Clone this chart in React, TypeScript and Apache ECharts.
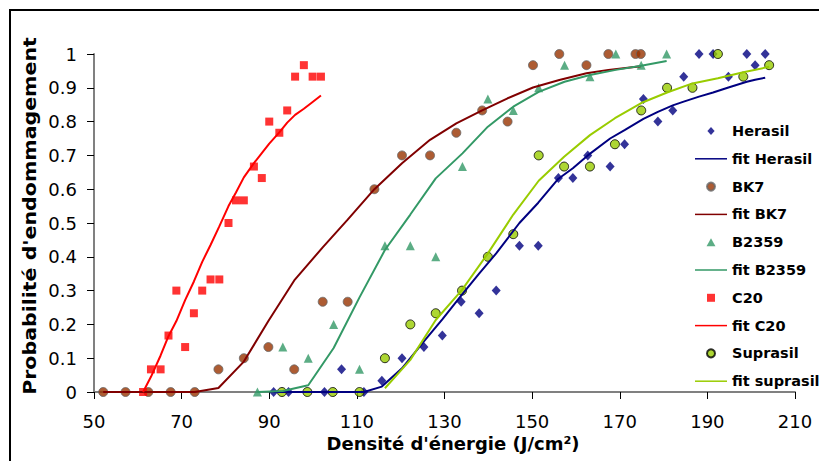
import React, { useEffect, useRef } from "react";
import * as echarts from "echarts";

const xTicks = [50, 70, 90, 110, 130, 150, 170, 190, 210];

const herasilX = [91.0, 94.4, 102.6, 106.5, 111.6, 115.7, 120.3, 125.3, 129.5, 133.8, 137.9, 141.8, 147.1, 151.4, 156.0, 159.3, 162.7, 167.8, 171.1, 175.4, 178.7, 182.1, 184.6, 188.1, 191.3, 194.8, 199.0, 200.9, 203.2];
const herasilY = [0, 0, 0, 0.067, 0, 0.033, 0.1, 0.133, 0.167, 0.267, 0.233, 0.3, 0.433, 0.433, 0.633, 0.633, 0.7, 0.667, 0.733, 0.867, 0.8, 0.833, 0.933, 1, 1, 0.933, 1, 0.967, 1];
const herasilFit = [0, 0, 0, 0, 0, 0.016, 0.07, 0.15, 0.215, 0.285, 0.35, 0.41, 0.5, 0.56, 0.631, 0.662, 0.7, 0.75, 0.775, 0.808, 0.829, 0.848, 0.859, 0.874, 0.886, 0.901, 0.918, 0.924, 0.93];

const bk7X = [52.1, 57.2, 62.4, 67.5, 73.0, 78.4, 84.2, 89.8, 95.7, 102.2, 107.9, 114.0, 120.3, 126.7, 132.7, 138.6, 144.4, 150.2, 156.2, 162.4, 167.4, 173.6, 174.8];
const bk7Y = [0, 0, 0, 0, 0, 0.067, 0.1, 0.133, 0.067, 0.267, 0.267, 0.6, 0.7, 0.7, 0.767, 0.833, 0.8, 0.967, 1, 0.967, 1, 1, 1];
const bk7Fit = [0, 0, 0, 0, 0, 0.012, 0.09, 0.21, 0.33, 0.428, 0.51, 0.6, 0.677, 0.746, 0.795, 0.833, 0.869, 0.901, 0.923, 0.943, 0.953, 0.963, 0.964];

const b2359X = [87.3, 93.1, 98.9, 104.7, 110.6, 116.4, 122.2, 128.0, 134.1, 139.9, 145.7, 151.5, 157.4, 163.2, 169.1, 174.9, 180.7];
const b2359Y = [0, 0.133, 0.1, 0.2, 0.067, 0.433, 0.433, 0.4, 0.667, 0.867, 0.833, 0.9, 0.967, 0.933, 1, 0.967, 1];
const b2359Fit = [0, 0.003, 0.02, 0.13, 0.28, 0.42, 0.525, 0.632, 0.706, 0.785, 0.844, 0.888, 0.918, 0.938, 0.953, 0.965, 0.979];

const c20X = [61.2, 63.0, 65.2, 67.0, 68.8, 70.8, 72.8, 74.7, 76.6, 78.6, 80.7, 82.4, 84.2, 86.5, 88.3, 90.0, 92.3, 94.1, 95.9, 97.9, 99.9, 101.8];
const c20Y = [0, 0.067, 0.067, 0.167, 0.3, 0.133, 0.233, 0.3, 0.333, 0.333, 0.5, 0.567, 0.567, 0.667, 0.633, 0.8, 0.767, 0.833, 0.933, 0.967, 0.933, 0.933];
const c20Fit = [0, 0.045, 0.108, 0.165, 0.21, 0.272, 0.327, 0.385, 0.435, 0.49, 0.55, 0.59, 0.635, 0.677, 0.707, 0.735, 0.768, 0.797, 0.82, 0.838, 0.858, 0.877];

const suprasilX = [92.9, 98.7, 104.5, 110.6, 116.4, 122.2, 128.0, 134.0, 139.9, 145.7, 151.5, 157.3, 163.2, 168.9, 174.9, 180.8, 186.6, 192.4, 198.2, 204.1];
const suprasilY = [0, 0, 0, 0, 0.1, 0.2, 0.233, 0.3, 0.4, 0.467, 0.7, 0.667, 0.667, 0.733, 0.833, 0.9, 0.9, 1, 0.933, 0.967];
const suprasilFitX = [116.4, 122.2, 128.0, 134.0, 139.9, 145.7, 151.5, 157.3, 163.2, 168.9, 174.9, 180.8, 186.6, 192.4, 198.2, 204.1];
const suprasilFit = [0.011, 0.095, 0.213, 0.302, 0.41, 0.525, 0.625, 0.696, 0.76, 0.81, 0.855, 0.886, 0.913, 0.928, 0.946, 0.962];

const legendNames = ["Herasil", "fit Herasil", "BK7", "fit BK7", "B2359", "fit B2359", "C20", "fit C20", "Suprasil", "fit suprasil"];

const zip = (xs: number[], ys: number[]) => xs.map((x, i) => [x, ys[i]]);

const FONT = "DejaVu Sans";
const ICON_DIAMOND = "path://M4.5 0L9 5L4.5 10L0 5Z";
const ICON_TRIANGLE = "path://M5 0L10 9L0 9Z";
const ICON_SQUARE = "path://M0 0H10V10H0Z";
const ICON_LINE = "path://M0 0H64V3H0Z";

export default function App() {
  const ref = useRef<HTMLDivElement>(null);
  useEffect(() => {
    if (!ref.current) return;
    const chart = echarts.init(ref.current, null, { renderer: "svg" });
    const scatter = (name: string, data: number[][], symbol: string, size: any, color: string, border?: string) => ({
      name,
      type: "scatter",
      data,
      symbol,
      symbolSize: size,
      itemStyle: border ? { color, borderColor: border, borderWidth: 1 } : { color },
    });
    const fit = (name: string, data: number[][], color: string) => ({
      name,
      type: "line",
      data,
      symbol: "none",
      smooth: false,
      lineStyle: { color, width: 2 },
      itemStyle: { color },
    });
    const icons: Record<string, string | undefined> = {
      Herasil: ICON_DIAMOND,
      B2359: ICON_TRIANGLE,
      C20: ICON_SQUARE,
    };
    chart.setOption({
      animation: false,
      backgroundColor: "#ffffff",
      grid: { left: 94, right: 24, top: 54, bottom: 69 },
      legend: {
        orient: "vertical",
        left: 690,
        top: 117,
        itemWidth: 32,
        itemHeight: 8,
        itemGap: 9.8,
        symbolKeepAspect: true,
        textStyle: { fontFamily: FONT, fontWeight: "bold", fontSize: 14.5, lineHeight: 18, color: "#000" },
        data: legendNames.map((n) =>
          n.startsWith("fit ")
            ? { name: n, icon: ICON_LINE, itemStyle: { borderWidth: 0 } }
            : icons[n]
            ? { name: n, icon: icons[n] }
            : { name: n, icon: "circle" }
        ),
      },
      xAxis: {
        type: "value",
        min: 50,
        max: 210,
        axisLine: { show: true, onZero: false, lineStyle: { color: "#808080", width: 2 } },
        axisTick: { show: true, customValues: xTicks, length: 7, lineStyle: { color: "#000", width: 1 } },
        axisLabel: { customValues: xTicks, color: "#000", fontSize: 18, fontFamily: FONT, margin: 20, formatter: (v: number) => String(v) },
        splitLine: { show: false },
        name: "Densité d'énergie (J/cm²)",
        nameLocation: "middle",
        nameGap: 41,
        nameTextStyle: { fontFamily: FONT, fontWeight: "bold", fontSize: 18, color: "#000", padding: [0, 0, 0, 17] },
      },
      yAxis: {
        type: "value",
        min: 0,
        max: 1,
        interval: 0.1,
        axisLine: { show: true, lineStyle: { color: "#808080", width: 2 } },
        axisTick: { show: true, length: 7, lineStyle: { color: "#000", width: 1 } },
        axisLabel: { color: "#000", fontSize: 18, fontFamily: FONT, margin: 17, formatter: (v: number) => String(+v.toFixed(1)) },
        splitLine: { show: false },
      },
      graphic: [
        { type: "rect", shape: { x: 10, y: 10, width: 900, height: 600 }, style: { fill: "none", stroke: "#000", lineWidth: 2 }, silent: true },
        {
          type: "text",
          x: 30,
          y: 216,
          rotation: Math.PI / 2,
          scaleX: 1.14,
          style: { text: "Probabilité d'endommagement", font: `bold 18px "${FONT}"`, fill: "#000", textAlign: "center", textVerticalAlign: "middle" },
        },
      ],
      series: [
        scatter("Herasil", zip(herasilX, herasilY), "diamond", [9, 10], "#000080"),
        fit("fit Herasil", zip(herasilX, herasilFit), "#000080"),
        scatter("BK7", zip(bk7X, bk7Y), "circle", 9, "#993300", "#666666"),
        fit("fit BK7", zip(bk7X.filter((_, i) => i !== 21), bk7Fit.filter((_, i) => i !== 21)), "#800000"),
        scatter("B2359", zip(b2359X, b2359Y), "triangle", 9, "#339966"),
        fit("fit B2359", zip(b2359X, b2359Fit), "#339966"),
        scatter("C20", zip(c20X, c20Y), "rect", 8, "#ff0000"),
        fit("fit C20", zip(c20X, c20Fit), "#ff0000"),
        scatter("Suprasil", zip(suprasilX, suprasilY), "circle", 9, "#99cc00", "#000000"),
        fit("fit suprasil", zip(suprasilFitX, suprasilFit), "#99cc00"),
      ],
    });
    return () => chart.dispose();
  }, []);
  return <div ref={ref} style={{ position: "absolute", left: 0, top: 0, width: 819, height: 461 }} />;
}
